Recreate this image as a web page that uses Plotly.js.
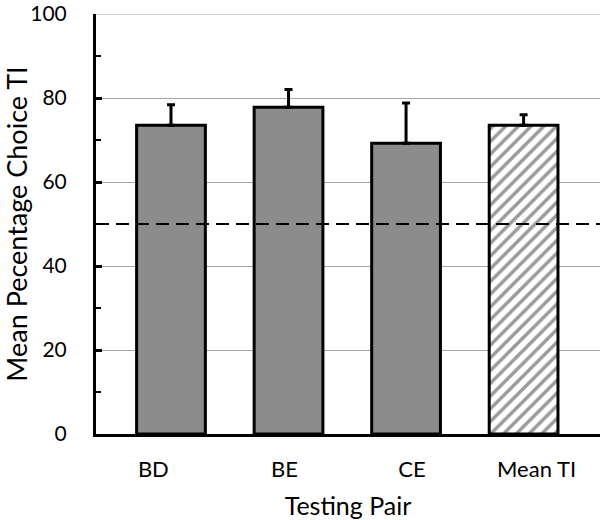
<!DOCTYPE html>
<html>
<head>
<meta charset="utf-8">
<script src="https://cdn.plot.ly/plotly-3.0.1.min.js"></script>
<style>html,body{margin:0;padding:0;background:#fff;}#chart{width:600px;height:520px;}</style>
</head>
<body>
<div id="chart"></div>
<script>
const categories = ['BD', 'BE', 'CE', 'Mean TI'];
const meanChoice = [73.5, 77.8, 69.2, 73.5];
const errorUpper = [4.9, 4.2, 9.6, 2.5];
const chanceLevel = 50;
const yTickVals = [0, 20, 40, 60, 80, 100];
// label placement nudges (in category units), as in the original figure
const labelNudge = [-0.15, -0.035, 0.05, 0.11];

const font = 'Lato, "Open Sans", "Noto Sans", sans-serif';
const pairIdx = [0, 1, 2];
const meanIdx = [3];

function pick(arr, idx) { return idx.map(i => arr[i]); }

const errCommon = {type: 'data', symmetric: false, color: '#000', thickness: 3, width: 4};

const pairTrace = {
  type: 'bar',
  x: pick(categories, pairIdx),
  y: pick(meanChoice, pairIdx),
  width: 0.585,
  marker: {color: '#8c8c8c', line: {color: '#000', width: 3}},
  error_y: Object.assign({}, errCommon, {array: pick(errorUpper, pairIdx), arrayminus: [0, 0, 0]}),
  hoverinfo: 'none'
};

const meanTrace = {
  type: 'bar',
  x: pick(categories, meanIdx),
  y: pick(meanChoice, meanIdx),
  width: 0.585,
  marker: {
    color: '#ffffff',
    line: {color: '#000', width: 3},
    pattern: {shape: '/', fgcolor: '#9a9a9a', bgcolor: '#ffffff', size: 9, solidity: 0.38, fillmode: 'replace'}
  },
  error_y: Object.assign({}, errCommon, {array: pick(errorUpper, meanIdx), arrayminus: [0]}),
  hoverinfo: 'none'
};

const layout = {
  width: 600, height: 520,
  margin: {l: 96, r: 0, t: 14, b: 86},
  paper_bgcolor: '#fff', plot_bgcolor: '#fff',
  showlegend: false,
  barmode: 'overlay',
  font: {family: font, size: 20, color: '#000'},
  xaxis: {
    type: 'category',
    categoryorder: 'array', categoryarray: categories,
    range: [-0.638, 3.65],
    tickmode: 'array',
    tickvals: categories.map((c, i) => i + labelNudge[i]),
    ticktext: categories,
    showline: true, linecolor: '#000', linewidth: 3,
    ticks: '', showgrid: false, zeroline: false,
    tickfont: {family: font, size: 22},
    ticklabelstandoff: 14,
    title: {text: 'Testing Pair', font: {family: font, size: 25}, standoff: 18}
  },
  yaxis: {
    range: [0, 100],
    tick0: 0, dtick: 20,
    ticks: 'inside', ticklen: 6, tickwidth: 3, tickcolor: '#000',
    minor: {dtick: 10, ticks: 'inside', ticklen: 5, tickwidth: 2, tickcolor: '#000', showgrid: false},
    showline: true, linecolor: '#000', linewidth: 3,
    showgrid: true, gridcolor: '#a6a6a6', gridwidth: 1,
    zeroline: false,
    tickfont: {family: font, size: 21},
    ticklabelstandoff: 22,
    ticklabeloverflow: 'allow',
    title: {text: 'Mean Pecentage Choice TI', font: {family: font, size: 27}, standoff: 6}
  },
  shapes: [{
    type: 'line', xref: 'paper', x0: 0, x1: 1, yref: 'y', y0: chanceLevel, y1: chanceLevel,
    line: {color: '#000', width: 2, dash: '13px,7px'}, layer: 'above'
  }, {
    type: 'line', xref: 'paper', x0: 0, x1: 1, yref: 'y', y0: yTickVals[yTickVals.length - 1], y1: yTickVals[yTickVals.length - 1],
    line: {color: '#a6a6a6', width: 1}, layer: 'below'
  }]
};

Plotly.newPlot('chart', [pairTrace, meanTrace], layout, {staticPlot: true, displayModeBar: false});
</script>
</body>
</html>
